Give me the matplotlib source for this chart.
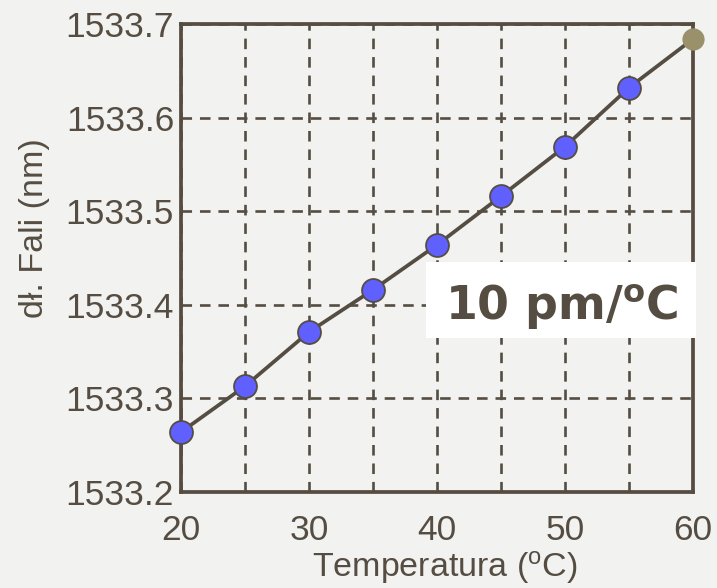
import matplotlib
matplotlib.use("Agg")
import matplotlib.pyplot as plt
from matplotlib.patches import Rectangle

# Wavelength shift vs. temperature
temperature = [20, 25, 30, 35, 40, 45, 50, 55]
wavelength = [1533.264, 1533.313, 1533.371, 1533.416, 1533.464, 1533.516, 1533.569, 1533.632]
end_temperature = 60
end_wavelength = 1533.684

x_ticks = [20, 30, 40, 50, 60]
x_minor = [25, 35, 45, 55]
y_ticks = [1533.2, 1533.3, 1533.4, 1533.5, 1533.6, 1533.7]
y_labels = ["1533.2", "1533.3", "1533.4", "1533.5", "1533.6", "1533.7"]

ink = "#564d42"
bg = "#f2f2f1"

plt.rcParams["mathtext.fontset"] = "custom"
plt.rcParams["mathtext.rm"] = "Liberation Sans"

fig = plt.figure(figsize=(7.17, 5.88), dpi=100, facecolor=bg)
ax = fig.add_axes([181 / 717, 1 - 492 / 588, 512 / 717, 468 / 588])
ax.set_facecolor(bg)

ax.set_xlim(20, 60)
ax.set_ylim(1533.2, 1533.7)
ax.set_xticks(x_ticks)
ax.set_xticks(x_minor, minor=True)
ax.set_yticks(y_ticks)
ax.set_yticklabels(y_labels)
ax.tick_params(which="both", length=0, labelsize=25.5, labelcolor=ink)
ax.tick_params(axis="x", pad=16)
ax.tick_params(axis="y", pad=5)
for lab in ax.get_xticklabels() + ax.get_yticklabels():
    lab.set_fontfamily("Liberation Sans")

ax.grid(which="both", color=ink, linewidth=1.9, dashes=(4, 3))
ax.set_axisbelow(True)
for s in ax.spines.values():
    s.set_color(ink)
    s.set_linewidth(2.7)

xs = temperature + [end_temperature]
ys = wavelength + [end_wavelength]
ax.plot(xs, ys, color=ink, linewidth=2.7, zorder=3, clip_on=False)
ax.plot(temperature, wavelength, linestyle="none", marker="o", markersize=16.5,
        markerfacecolor="#6060ff", markeredgecolor=ink, markeredgewidth=1.3,
        zorder=4, clip_on=False)
ax.plot([end_temperature], [end_wavelength], linestyle="none", marker="o",
        markersize=16, markerfacecolor="#9a916a", markeredgewidth=0,
        zorder=4, clip_on=False)

ax.set_xlabel(r"Temperatura ($\mathregular{^o}$C)", fontsize=24.5, color=ink,
              fontfamily="Liberation Sans")
ax.xaxis.set_label_coords(0.516, -0.121)
ax.set_ylabel("dł. Fali (nm)", fontsize=24.5, color=ink, fontfamily="Liberation Sans")
ax.yaxis.set_label_coords(-0.256, 0.564)

# Slope annotation on a white panel
ax.add_patch(Rectangle((39.14, 1533.3645), 21.1, 0.0812, facecolor="white",
                       edgecolor="none", zorder=5, clip_on=False))
ax.text(49.77, 1533.3838, r"10 pm/$\mathregular{^o}$C", fontsize=33, fontweight="bold",
        color=ink, fontfamily="DejaVu Sans", ha="center", va="baseline", zorder=6,
        clip_on=False)

fig.savefig("out.png", dpi=100, facecolor=bg)
